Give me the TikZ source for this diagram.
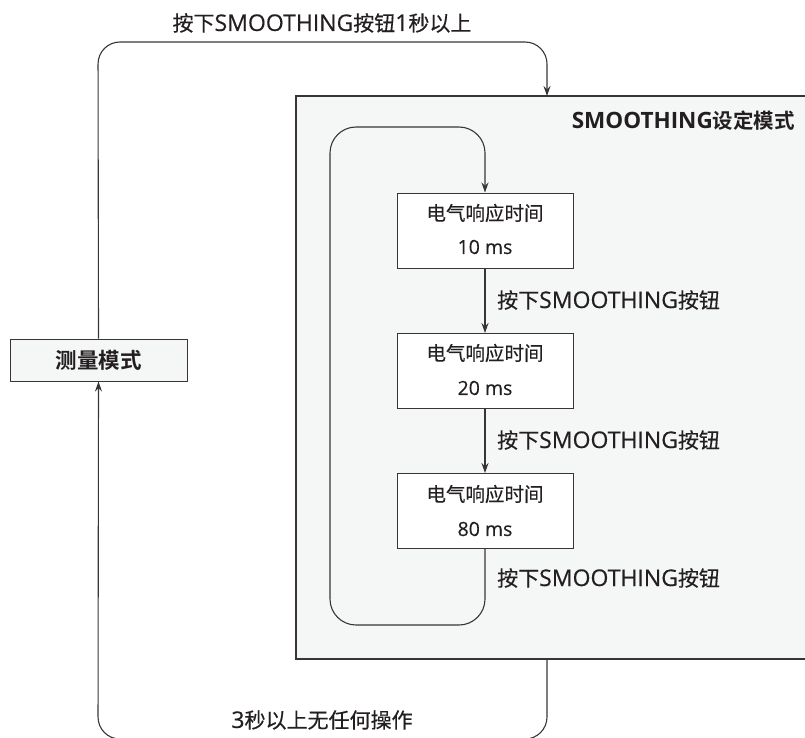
\documentclass[tikz,border=0pt]{standalone}
\usepackage{fontspec}
\setmainfont[FakeBold=0.4]{Noto Sans CJK SC}
\newfontfamily\cjkbold{Noto Sans CJK SC Bold}
\newfontfamily\latfont[FakeBold=0.4]{Open Sans}
\newfontfamily\latbold{Open Sans}
\newcommand\lt[1]{{\latfont #1}}
\newcommand\ltb[1]{{\latbold\bfseries #1}}
\usetikzlibrary{arrows.meta}
\definecolor{panelfill}{HTML}{F5F7F7}
\definecolor{linecol}{HTML}{3A3535}
\definecolor{txtcol}{HTML}{231F20}
\tikzset{
  conn/.style={draw=linecol, line width=1.1pt},
  arr/.style={conn, -{Stealth[length=10pt,width=7pt]}},
  valbox/.style={draw=linecol, line width=1pt, fill=white, minimum width=176pt, minimum height=75pt, inner sep=0pt},
  lbl/.style={text=txtcol, font=\fontsize{21}{24}\selectfont\addfontfeature{FakeBold=0.4}, inner sep=0pt},
  boxlbl/.style={text=txtcol, font=\fontsize{19.5}{22}\selectfont, inner sep=0pt},
}
\begin{document}
\begin{tikzpicture}[x=1pt,y=-1pt]
\useasboundingbox (0,0) rectangle (805,738);
% setting panel
\path[fill=panelfill, draw=linecol, line width=1.2pt] (296,96) -- (812,96) -- (812,659) -- (296,659) -- cycle;
\coordinate (paneltop) at (547,96);
\coordinate (panelbot) at (547,659);
\node[lbl, font=\cjkbold\fontsize{20.5}{24}\selectfont, anchor=east] (ptitle) at (795,121) {{\latbold\bfseries\fontsize{22.5}{24}\selectfont SMOOTHING}设定模式};
% measurement mode
\node[draw=linecol, line width=1pt, fill=panelfill, minimum width=177pt, minimum height=42pt, inner sep=0pt, text=txtcol, font=\cjkbold\fontsize{21.5}{24}\selectfont] (meas) at (98.5,360) {测量模式};
% value boxes
\node[valbox] (b1) at (485,230.5) {};
\node[boxlbl] (b1a) at (485,213) {电气响应时间};
\node[boxlbl] (b1b) at (485,247) {\lt{10 ms}};
\node[valbox] (b2) at (485,371) {};
\node[boxlbl] (b2a) at (485,353) {电气响应时间};
\node[boxlbl] (b2b) at (485,388) {\lt{20 ms}};
\node[valbox] (b3) at (485,511) {};
\node[boxlbl] (b3a) at (485,494) {电气响应时间};
\node[boxlbl] (b3b) at (485,529) {\lt{80 ms}};
% inner arrows
\draw[arr] (b1.south) -- (b2.north);
\draw[arr] (b2.south) -- (b3.north);
\node[lbl, anchor=west] (l1) at (497,300) {按下{\latfont\fontsize{23}{24}\selectfont SMOOTHING}按钮};
\node[lbl, anchor=west] (l2) at (497,440) {按下{\latfont\fontsize{23}{24}\selectfont SMOOTHING}按钮};
\node[lbl, anchor=west] (l3) at (497,578) {按下{\latfont\fontsize{23}{24}\selectfont SMOOTHING}按钮};
% loop
\draw[arr, rounded corners=26pt] (b3.south) -- (485,625) -- (330,625) -- (330,127) -- (485,127) -- (b1.north);
% outer top
\draw[arr, rounded corners=22pt] (meas.north) -- (98,42) -- (547,42) -- (paneltop);
\node[lbl] (ltop) at (322,23) {按下{\latfont\fontsize{23}{24}\selectfont SMOOTHING}按钮{\latfont\fontsize{23}{24}\selectfont 1}秒以上};
% outer bottom
\draw[arr, rounded corners=22pt] (panelbot) -- (547,739) -- (98,739) -- (meas.south);
\node[lbl] (lbot) at (322,720) {{\latfont\fontsize{23}{24}\selectfont 3}秒以上无任何操作};
\end{tikzpicture}
\end{document}
